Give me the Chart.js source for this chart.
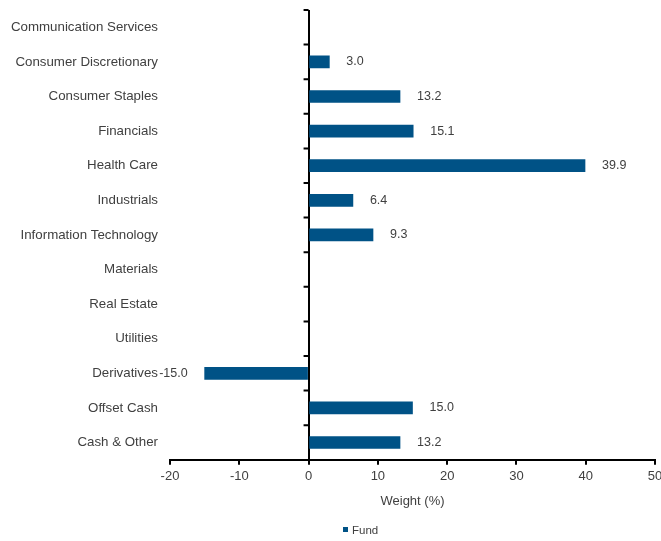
<!DOCTYPE html>
<html>
<head>
<meta charset="utf-8">
<script src="https://cdn.jsdelivr.net/npm/chart.js@4.4.0/dist/chart.umd.min.js"></script>
<style>
  html, body { margin: 0; padding: 0; background: #fff; }
  #wrap { position: relative; width: 661px; height: 541px; }
  #legend { position: absolute; left: 343px; top: 524px; font: 11.5px 'Liberation Sans', Arial, sans-serif; color: #404040; }
  #legend span.box { display: inline-block; width: 5px; height: 5px; margin-right: 4px; vertical-align: 2px; }
</style>
</head>
<body>
<div id="wrap">
  <canvas id="sectorChart" width="661" height="541"></canvas>
  <div id="legend"></div>
</div>
<script>
// sector weights
const sectors = [
    'Communication Services', 'Consumer Discretionary', 'Consumer Staples', 'Financials',
    'Health Care', 'Industrials', 'Information Technology', 'Materials', 'Real Estate',
    'Utilities', 'Derivatives', 'Offset Cash', 'Cash & Other'
];
const fundWeights = [null, 3.0, 13.2, 15.1, 39.9, 6.4, 9.3, null, null, null, -15.0, 15.0, 13.2];
const xTicks = [-20, -10, 0, 10, 20, 30, 40, 50];
const seriesName = 'Fund';
const barColor = '#005286';
const textColor = '#404040';
const fontFamily = "'Liberation Sans', Arial, sans-serif";

// value labels next to each bar end
const valueLabels = {
    id: 'valueLabels',
    afterDatasetsDraw(chart) {
        const ctx = chart.ctx;
        const meta = chart.getDatasetMeta(0);
        ctx.save();
        ctx.font = '12.5px ' + fontFamily;
        ctx.fillStyle = textColor;
        ctx.textBaseline = 'middle';
        meta.data.forEach((bar, i) => {
            const v = fundWeights[i];
            if (v === null) return;
            if (v >= 0) {
                ctx.textAlign = 'left';
                ctx.fillText(v.toFixed(1), bar.x + 17, bar.y);
            } else {
                ctx.textAlign = 'right';
                ctx.fillText(v.toFixed(1), bar.x - 17, bar.y);
            }
        });
        ctx.restore();
    }
};

// small category ticks on the zero line
const zeroTicks = {
    id: 'zeroTicks',
    afterDraw(chart) {
        const ctx = chart.ctx;
        const x0 = chart.scales.x.getPixelForValue(0);
        const y = chart.scales.y;
        ctx.save();
        ctx.strokeStyle = '#000';
        ctx.lineWidth = 2;
        ctx.beginPath();
        for (let i = 0; i < sectors.length; i++) {
            const py = y.getPixelForValue(i - 0.5);
            ctx.moveTo(x0 - 5, py);
            ctx.lineTo(x0, py);
        }
        ctx.stroke();
        ctx.restore();
    }
};

const ctx = document.getElementById('sectorChart').getContext('2d');
new Chart(ctx, {
    type: 'bar',
    data: {
        labels: sectors,
        datasets: [{
            label: seriesName,
            data: fundWeights,
            backgroundColor: barColor,
            barThickness: 12
        }]
    },
    options: {
        indexAxis: 'y',
        responsive: false,
        animation: false,
        layout: { padding: { top: 10, right: 6, bottom: 32, left: 0 } },
        plugins: {
            legend: { display: false },
            tooltip: { enabled: false }
        },
        scales: {
            x: {
                min: -20,
                max: 50,
                afterBuildTicks: (scale) => { scale.ticks = xTicks.map(v => ({ value: v })); },
                afterFit: (scale) => {
                    scale.paddingLeft = 0;
                    scale.paddingRight = 0;
                },
                grid: {
                    color: (c) => c.tick && c.tick.value === 0 ? '#000' : 'rgba(0,0,0,0)',
                    lineWidth: 2,
                    tickColor: '#000',
                    tickLength: 5,
                    drawTicks: true
                },
                border: { display: true, color: '#000', width: 2 },
                ticks: { color: textColor, font: { family: fontFamily, size: 13 }, padding: 4, maxRotation: 0 },
                title: {
                    display: true,
                    text: 'Weight (%)',
                    color: textColor,
                    font: { family: fontFamily, size: 13 },
                    padding: { top: 5, bottom: 0 }
                }
            },
            y: {
                grid: { display: false, drawTicks: false },
                border: { display: false },
                ticks: { color: textColor, font: { family: fontFamily, size: 13.3 }, padding: 12, autoSkip: false },
                afterFit: (scale) => {
                    scale.width = 170;
                    scale.paddingTop = 0;
                    scale.paddingBottom = 0;
                }
            }
        }
    },
    plugins: [valueLabels, zeroTicks]
});

// legend
document.getElementById('legend').innerHTML =
    '<span class="box" style="background:' + barColor + '"></span>' + seriesName;
</script>
</body>
</html>
